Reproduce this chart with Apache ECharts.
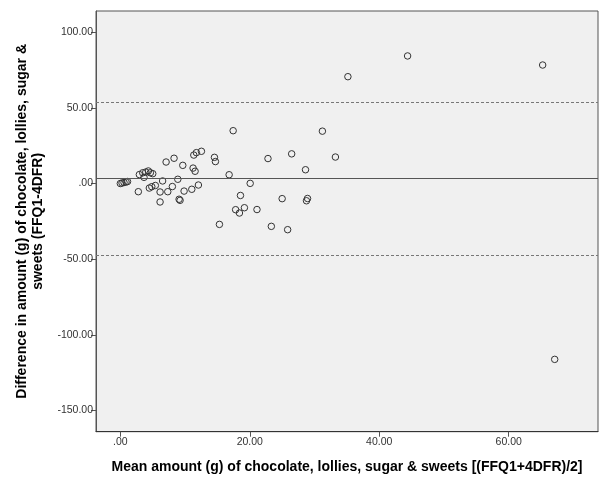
<!DOCTYPE html>
<html>
<head>
<meta charset="utf-8">
<script src="https://cdn.jsdelivr.net/npm/echarts@6/dist/echarts.min.js"></script>
<style>
html,body{margin:0;padding:0;background:#fff;}
#chart{width:600px;height:478px;}
</style>
</head>
<body>
<div id="chart"></div>
<script>
// Mean of the two methods (x) and their difference (y)
const meanValues = [
  0.0, 0.26, 0.57, 0.88, 1.11,
  2.78, 2.94, 3.46, 3.93, 4.33, 4.64, 5.01, 3.66, 4.48, 4.86, 5.41,
  6.14, 6.14, 6.53, 7.07, 7.33, 8.04, 8.30, 8.88, 9.08, 9.23, 9.65, 9.85,
  11.04, 11.24, 11.55, 11.35, 11.75, 12.53, 12.06, 14.54, 14.69, 15.31,
  16.81, 17.43, 17.81, 18.40, 18.56, 19.17, 20.06, 21.11, 22.81, 23.33,
  25.00, 25.85, 26.47, 28.61, 28.76, 28.92, 31.22, 33.23, 35.16, 44.38,
  65.25, 67.11
];
const diffValues = [
  0.0, 0.33, 0.66, 1.0, 1.3,
  -5.4, 5.9, 7.1, 7.6, 8.3, 7.1, 6.5, 4.1, -3.0, -2.1, -1.3,
  -5.6, -12.2, 1.7, 14.2, -5.4, -2.0, 16.7, 2.8, -10.4, -11.1, 12.0, -5.0,
  -3.8, 10.2, 8.1, 18.8, 20.4, 21.3, -1.0, 17.3, 14.5, -27.0,
  5.8, 34.9, -17.3, -19.5, -7.9, -16.0, 0.1, -17.2, 16.5, -28.3,
  -10.0, -30.5, 19.6, 9.1, -11.4, -9.9, 34.6, 17.5, 70.6, 84.3,
  78.3, -116.2
];
const meanDiff = 3.2;
const upperLoA = 53.7;
const lowerLoA = -47.2;
const xTicks = [0, 20, 40, 60];
const yTicks = [-150, -100, -50, 0, 50, 100];
const xTitle = 'Mean amount (g) of chocolate, lollies, sugar & sweets [(FFQ1+4DFR)/2]';
const yTitle = 'Difference in amount (g) of chocolate, lollies, sugar &\nsweets (FFQ1-4DFR)';

const points = meanValues.map((m, i) => [m, diffValues[i]]);
const fmt = v => (Math.abs(v) < 1e-9 ? '.00' : v.toFixed(2));
const FONT = '"Liberation Sans", Arial, sans-serif';

const chart = echarts.init(document.getElementById('chart'), null, {renderer: 'canvas'});
chart.setOption({
  animation: false,
  backgroundColor: '#ffffff',
  grid: {
    left: 96, top: 11, right: 2, bottom: 46.3,
    containLabel: false, outerBoundsMode: 'none',
    show: true, backgroundColor: '#f0f0f0', borderColor: '#555', borderWidth: 1
  },
  xAxis: {
    type: 'value', min: -3.76, max: 73.8,
    name: xTitle, nameLocation: 'middle', nameGap: 28,
    nameTextStyle: {fontFamily: FONT, fontWeight: 'bold', fontSize: 14, color: '#000'},
    axisLine: {show: true, onZero: false, lineStyle: {color: '#333', width: 1}},
    axisTick: {show: true, length: 5, customValues: xTicks, lineStyle: {color: '#555'}},
    axisLabel: {customValues: xTicks, formatter: fmt, fontFamily: FONT, fontSize: 10.5, color: '#333', margin: 5},
    splitLine: {show: false}
  },
  yAxis: {
    type: 'value', min: -164, max: 114,
    name: yTitle, nameLocation: 'middle', nameRotate: 90, nameGap: 50,
    nameTextStyle: {fontFamily: FONT, fontWeight: 'bold', fontSize: 14, color: '#000', lineHeight: 16, align: 'center'},
    axisLine: {show: true, onZero: false, lineStyle: {color: '#555', width: 1}},
    axisTick: {show: true, length: 5, customValues: yTicks, lineStyle: {color: '#555'}},
    axisLabel: {customValues: yTicks, formatter: fmt, fontFamily: FONT, fontSize: 10.5, color: '#333', margin: 3},
    splitLine: {show: false}
  },
  series: [{
    type: 'scatter',
    data: points,
    symbol: 'circle',
    symbolSize: 6.5,
    itemStyle: {color: 'rgba(0,0,0,0)', borderColor: '#333', borderWidth: 1, opacity: 1},
    markLine: {
      silent: true,
      symbol: ['none', 'none'],
      label: {show: false},
      data: [
        {yAxis: meanDiff, lineStyle: {type: 'solid', color: '#555', width: 1}},
        {yAxis: upperLoA, lineStyle: {type: [3, 2], color: '#777', width: 1}},
        {yAxis: lowerLoA, lineStyle: {type: [3, 2], color: '#777', width: 1}}
      ]
    }
  }]
});
</script>
</body>
</html>
